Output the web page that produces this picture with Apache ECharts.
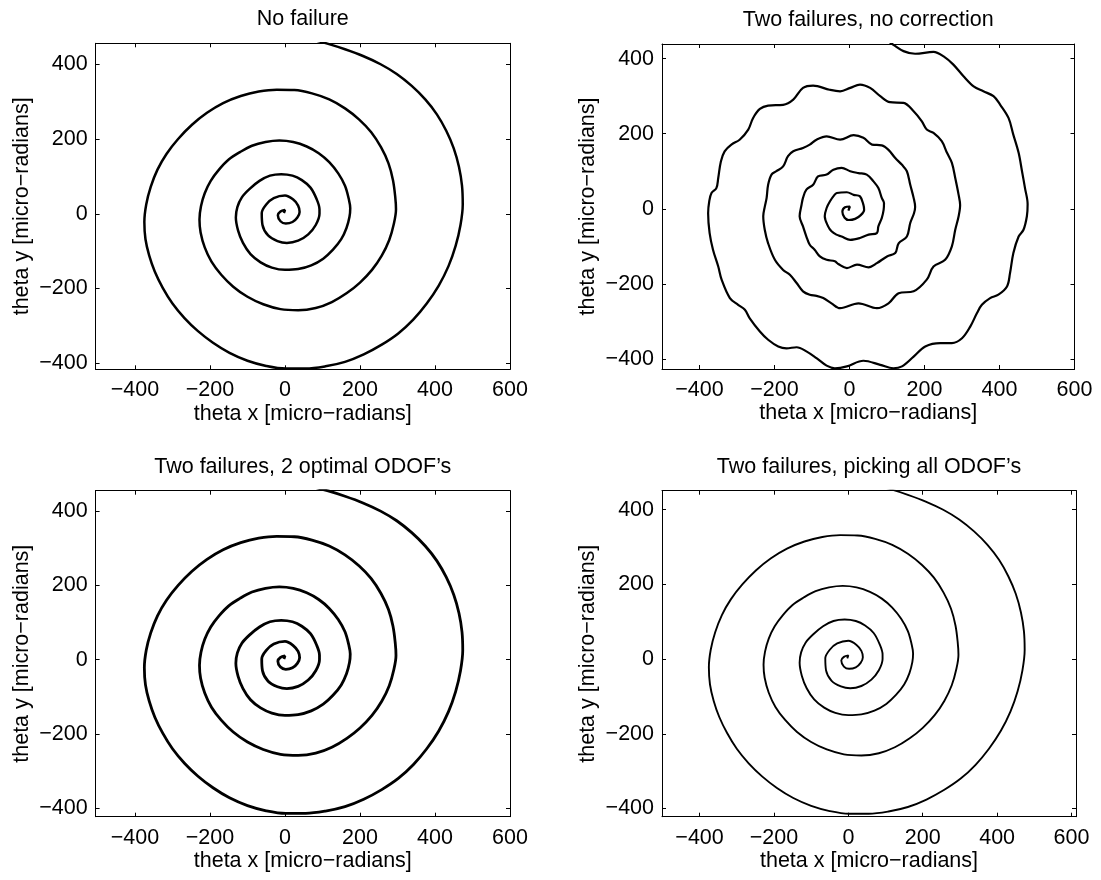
<!DOCTYPE html>
<html>
<head>
<meta charset="utf-8">
<script src="https://cdn.jsdelivr.net/npm/echarts@6/dist/echarts.min.js"></script>
<style>
  html, body { margin: 0; padding: 0; background: #fff; }
  #chart { width: 1101px; height: 880px; }
</style>
</head>
<body>
<div id="chart"></div>
<script>
// spiral traced from the "No failure" panel, [theta x, theta y] in micro-radians
const noFailure = [
  [-3, 2], [0, 10], [-12, 6], [-19, -4], [-12, -20], [2, -26], [20, -22], [33, -10], [39, 5],
  [35, 22], [22, 38], [0, 49], [-30, 42], [-50, 25], [-62, 2],
  [-60, -30], [-45, -58], [-20, -73], [5, -78], [35, -72], [62, -55], [82, -30], [92, 0],
  [92, 12], [84, 40], [68, 70], [45, 90], [20, 102], [-10, 106], [-40, 102], [-68, 88],
  [-95, 66], [-115, 44], [-127, 18], [-131, -10],
  [-125, -45], [-112, -78], [-92, -108], [-65, -130], [-35, -144], [0, -150], [35, -148],
  [70, -138], [102, -120], [128, -96], [150, -68], [164, -38], [172, -8], [174, 15],
  [170, 40], [160, 75], [142, 108], [118, 138], [90, 162], [58, 180], [22, 192], [-15, 196],
  [-52, 192], [-88, 182], [-120, 165], [-150, 145], [-176, 118], [-198, 88], [-214, 55],
  [-224, 20], [-228, -15],
  [-225, -50], [-214, -90], [-196, -128], [-170, -163], [-138, -195], [-100, -222], [-58, -242],
  [-12, -255], [35, -258], [82, -252], [125, -236], [165, -212], [200, -184], [232, -150],
  [258, -112], [278, -70], [290, -28], [296, 12],
  [294, 45], [288, 90], [276, 135], [256, 178], [230, 218], [198, 252], [160, 282], [118, 306],
  [72, 322], [25, 331], [-22, 332], [-70, 327], [-118, 315], [-165, 296], [-208, 270],
  [-248, 238], [-285, 200], [-316, 160], [-340, 118], [-358, 72], [-370, 25], [-375, -22],
  [-372, -68], [-362, -112], [-347, -155], [-326, -198], [-300, -240], [-268, -279], [-232, -314],
  [-192, -345], [-148, -372], [-100, -393], [-50, -407], [2, -414], [55, -414], [108, -408],
  [160, -396], [210, -376], [258, -350], [302, -320], [342, -283], [378, -240], [410, -192],
  [436, -140], [455, -86], [468, -30], [474, 25],
  [472, 75], [464, 125], [450, 175], [430, 222], [405, 266], [374, 306], [338, 342], [298, 374],
  [255, 400], [208, 422], [160, 440], [113, 455], [65, 468]
];

// the corrected runs follow the same path at this resolution
const twoOptimal = noFailure;
const pickingAll = noFailure;

// wavy spiral of the uncorrected run
const noCorrection = [
  [-3, -5], [1, 6], [-12, 4], [-19, -8], [-13, -24], [-2, -30], [15, -27], [30, -17], [39, -3],
  [37, 11], [28, 33], [11, 37], [-7, 44], [-34, 42], [-40, 37], [-52, 20], [-61, 2],
  [-66, -20], [-57, -47], [-48, -60], [-35, -69], [-21, -74], [2, -83], [28, -78], [51, -69],
  [73, -65], [77, -47], [86, -25], [91, -3], [92, 15],
  [86, 29], [77, 55], [64, 73], [46, 91], [24, 95], [2, 100], [-21, 109], [-43, 104],
  [-61, 91], [-84, 86], [-97, 64], [-115, 51], [-124, 29], [-128, 10],
  [-133, -20], [-124, -47], [-115, -74], [-106, -96], [-93, -109], [-79, -127], [-61, -136],
  [-39, -140], [-30, -147], [-7, -158], [20, -149], [51, -156], [73, -145], [100, -127],
  [122, -118], [131, -92], [153, -74], [162, -38], [172, -12], [175, 5],
  [171, 29], [162, 64], [153, 100], [140, 117], [122, 135], [104, 157], [86, 169], [60, 171],
  [37, 189], [11, 196], [-25, 184], [-61, 193], [-88, 184], [-106, 171], [-124, 162],
  [-150, 153], [-164, 140], [-177, 113], [-195, 100], [-208, 91], [-217, 64], [-221, 29], [-226, 5],
  [-230, -20], [-226, -56], [-217, -92], [-199, -136], [-177, -163], [-159, -176], [-141, -198],
  [-124, -220], [-106, -229], [-88, -232], [-70, -238], [-48, -252], [-25, -265],
  [24, -252], [73, -265], [104, -252], [131, -225], [171, -220], [206, -189], [224, -154],
  [255, -136], [273, -100], [282, -56], [291, -20], [295, 10],
  [291, 37], [282, 82], [273, 122], [260, 149], [246, 180], [224, 202], [206, 211], [193, 233],
  [171, 260], [144, 282], [108, 284], [82, 300], [55, 322], [28, 331], [2, 322], [-25, 313],
  [-53, 317], [-97, 328], [-124, 322], [-150, 291], [-177, 277], [-217, 275], [-239, 266],
  [-257, 242], [-270, 211], [-293, 184], [-315, 171], [-333, 153], [-343, 126], [-350, 82],
  [-355, 55], [-368, 42], [-374, 20], [-377, -12], [-373, -65], [-364, -109], [-350, -154],
  [-341, -189], [-319, -238], [-297, -256], [-279, -269], [-266, -292], [-239, -327],
  [-217, -349], [-190, -367], [-168, -372], [-141, -369], [-115, -380], [-88, -398],
  [-61, -418], [-39, -425], [-7, -420], [37, -405], [82, -416], [117, -425], [140, -420],
  [171, -394], [202, -367], [242, -358], [273, -358], [300, -345], [322, -314], [340, -278],
  [353, -256], [375, -238], [397, -229], [420, -207], [428, -172], [437, -118], [451, -74],
  [464, -56], [473, -20], [475, 12], [468, 55], [460, 100], [451, 149], [437, 197], [424, 242],
  [402, 277], [384, 300], [357, 313], [331, 326], [304, 353], [277, 384], [251, 406],
  [224, 418], [175, 413], [144, 420], [117, 437], [95, 452]
];

const titles = [
  "No failure",
  "Two failures, no correction",
  "Two failures, 2 optimal ODOF\u2019s",
  "Two failures, picking all ODOF\u2019s"
];
const xName = "theta x [micro\u2212radians]";
const yName = "theta y [micro\u2212radians]";

// axis limits of each panel
const xLimits = [[-505, 600], [-500, 600], [-505, 600], [-501, 612]];
const yLimits = [[-416, 456], [-427, 439], [-423, 455], [-422, 451]];
const panelData = [noFailure, noCorrection, twoOptimal, pickingAll];

const font = '"Liberation Sans", Arial, Helvetica, sans-serif';
const fontSize = 21.5;
const boxes = [
  { left: 95.6, top: 43.3, width: 414.4, height: 326 },
  { left: 662, top: 44, width: 412.5, height: 325 },
  { left: 95.6, top: 490.7, width: 414.4, height: 326 },
  { left: 662, top: 490.7, width: 414, height: 326 }
];
const widths = [2.5, 2.2, 2.8, 1.9];

function tickText(v) {
  if (Math.abs(v % 200) > 1e-6) return "";
  return v < 0 ? "\u2212" + (-v) : String(v);
}

function axisBase(i, lim, extra) {
  return Object.assign({
    type: "value",
    gridIndex: i,
    min: lim[0],
    max: lim[1],
    splitNumber: 5,
    splitLine: { show: false },
    axisLine: { show: true, onZero: false, lineStyle: { color: "#000", width: 1 } },
    axisTick: { show: true, inside: true, length: 4, lineStyle: { color: "#000", width: 1 } },
    axisLabel: { show: false }
  }, extra);
}

const grid = [], xAxis = [], yAxis = [], series = [], graphic = [];
const textStyle = { color: "#000", fontSize: fontSize, fontFamily: font };

boxes.forEach((b, i) => {
  grid.push(Object.assign({ containLabel: false }, b));

  xAxis.push(axisBase(i, xLimits[i], {
    position: "bottom",
    name: xName,
    nameLocation: "middle",
    nameGap: 33.5,
    nameTextStyle: textStyle,
    axisLabel: Object.assign({ show: true, margin: 10, formatter: tickText }, textStyle)
  }));
  xAxis.push(axisBase(i, xLimits[i], { position: "top" }));

  yAxis.push(axisBase(i, yLimits[i], {
    position: "left",
    name: yName,
    nameLocation: "middle",
    nameGap: 63,
    nameTextStyle: textStyle,
    axisLabel: Object.assign({ show: true, margin: 8, formatter: tickText }, textStyle)
  }));
  yAxis.push(axisBase(i, yLimits[i], { position: "right" }));

  series.push({
    type: "line",
    xAxisIndex: i * 2,
    yAxisIndex: i * 2,
    data: panelData[i],
    smooth: 0.35,
    symbol: "none",
    clip: true,
    lineStyle: { color: "#000", width: widths[i] },
    silent: true,
    animation: false
  });

  graphic.push({
    type: "text",
    x: b.left + b.width / 2,
    y: b.top - 24,
    style: {
      text: titles[i],
      fill: "#000",
      font: fontSize + "px " + font,
      textAlign: "center",
      textVerticalAlign: "middle"
    }
  });
});

const chart = echarts.init(document.getElementById("chart"));
chart.setOption({
  backgroundColor: "#fff",
  animation: false,
  grid: grid,
  xAxis: xAxis,
  yAxis: yAxis,
  series: series,
  graphic: graphic
});
</script>
</body>
</html>
